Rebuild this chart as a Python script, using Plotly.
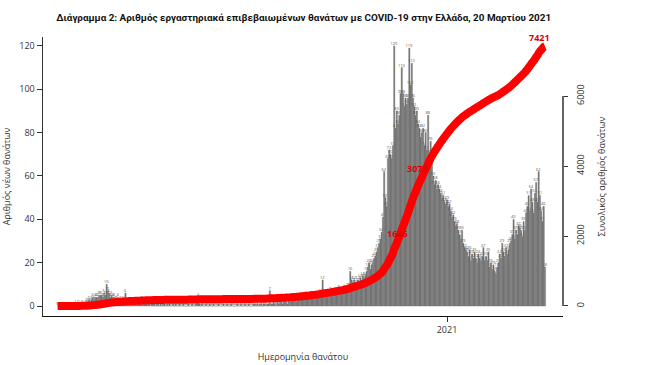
import numpy as np
import pandas as pd
import plotly.graph_objects as go

# ---------------- data (daily deaths by date of death) ----------------
deaths_2020_02 = [0, 0, 0, 0]  # from 26 Feb
deaths_2020_03 = [0, 0, 0, 0, 0, 0, 0, 0, 0, 0, 1, 0, 1, 1, 0, 1, 1, 0, 1, 2,
                  2, 3, 2, 3, 4, 3, 4, 4, 4, 5, 5]
deaths_2020_04 = [5, 4, 6, 5, 10, 7, 6, 4, 5, 4, 4, 3, 3, 4, 2, 3, 2, 3, 2, 6,
                  2, 2, 1, 2, 2, 1, 1, 2, 1, 1]
deaths_2020_05 = [2, 1, 3, 2, 1, 2, 1, 1, 2, 0, 1, 2, 1, 0, 1, 1, 0, 1, 0, 2,
                  1, 0, 1, 0, 1, 0, 0, 1, 0, 1, 0]
deaths_2020_06 = [0, 1, 0, 0, 1, 0, 0, 0, 1, 0, 0, 1, 0, 0, 1, 2, 4, 1, 0, 1,
                  0, 0, 1, 0, 0, 1, 0, 0, 1, 0]
deaths_2020_07 = [0, 0, 1, 0, 0, 0, 1, 0, 0, 1, 0, 0, 1, 0, 0, 0, 0, 1, 0, 0,
                  1, 0, 0, 1, 0, 0, 1, 0, 0, 0, 1]
deaths_2020_08 = [1, 0, 1, 0, 1, 1, 0, 1, 1, 0, 1, 1, 7, 1, 1, 2, 1, 0, 2, 1,
                  2, 3, 1, 2, 3, 2, 1, 3, 2, 4, 3]
deaths_2020_09 = [3, 3, 2, 4, 3, 4, 4, 3, 4, 3, 5, 4, 3, 4, 5, 5, 4, 4, 5, 5,
                  4, 6, 5, 12, 5, 5, 6, 5, 5, 7]
deaths_2020_10 = [6, 6, 5, 7, 6, 7, 8, 6, 7, 7, 8, 8, 7, 9, 9, 16, 12, 11, 12, 11,
                  10, 12, 11, 13, 12, 14, 13, 14, 16, 18, 20]
deaths_2020_11 = [17, 19, 20, 22, 23, 25, 27, 29, 31, 34, 41, 62, 50, 46, 68, 72, 70, 68, 74, 120,
                  82, 90, 84, 88, 98, 110, 98, 92, 96, 93]
deaths_2020_12 = [96, 119, 102, 112, 96, 92, 88, 90, 84, 82, 78, 80, 82, 74, 80, 72, 88, 70, 76, 66,
                  60, 56, 58, 54, 56, 54, 52, 50, 51, 48, 47]
deaths_2021_01 = [49, 46, 47, 44, 41, 42, 39, 37, 38, 35, 33, 31, 35, 29, 27, 26, 25, 23, 26, 21,
                  24, 22, 25, 22, 20, 24, 22, 21, 23, 27, 21]
deaths_2021_02 = [23, 21, 25, 18, 20, 17, 19, 16, 15, 18, 20, 24, 22, 29, 25, 23, 27, 24, 26, 29,
                  30, 33, 40, 31, 35, 33, 37, 36]
deaths_2021_03 = [35, 32, 39, 35, 43, 46, 51, 44, 54, 48, 43, 52, 57, 48, 62, 51, 44, 39, 46, 18]

month_starts = ["2020-02-26", "2020-03-01", "2020-04-01", "2020-05-01", "2020-06-01",
                "2020-07-01", "2020-08-01", "2020-09-01", "2020-10-01", "2020-11-01",
                "2020-12-01", "2021-01-01", "2021-02-01", "2021-03-01"]
month_values = [deaths_2020_02, deaths_2020_03, deaths_2020_04, deaths_2020_05, deaths_2020_06,
                deaths_2020_07, deaths_2020_08, deaths_2020_09, deaths_2020_10, deaths_2020_11,
                deaths_2020_12, deaths_2021_01, deaths_2021_02, deaths_2021_03]

cum_labels = [1646, 3073, 7421]
x_tick_vals = ["2021-01-01"]
x_tick_text = ["2021"]
left_ticks = [0, 20, 40, 60, 80, 100, 120]
right_ticks = [0, 2000, 4000, 6000]

title_text = "Διάγραμμα 2: Αριθμός εργαστηριακά επιβεβαιωμένων θανάτων με COVID-19 στην Ελλάδα, 20 Μαρτίου 2021"
x_title = "Ημερομηνία θανάτου"
y_title = "Αριθμός νέων θανάτων"
y2_title = "Συνολικός αριθμός θανάτων"

# ---------------- build series ----------------
dates, deaths = [], []
for start, vals in zip(month_starts, month_values):
    dates += list(pd.date_range(start, periods=len(vals), freq="D"))
    deaths += vals
cum = np.cumsum(deaths)

# ---------------- figure ----------------
AX = "#333333"
FONT = "Open Sans, Noto Sans, DejaVu Sans, sans-serif"
BAR = "#747474"

fig = go.Figure()
fig.add_trace(go.Bar(
    x=dates, y=deaths, yaxis="y",
    marker=dict(color=BAR, line=dict(width=0.4, color=BAR)),
    text=[str(v) for v in deaths], textposition="outside",
    textfont=dict(size=4, color="#555555", family=FONT),
    constraintext="none", cliponaxis=False, hoverinfo="skip",
))
fig.add_trace(go.Scatter(
    x=dates, y=cum, yaxis="y2", mode="lines",
    line=dict(color="#ff0000", width=8, simplify=False, shape="spline", smoothing=0.6),
    hoverinfo="skip",
))

label_shift = [(2, 15), (4, 30), (-5, 9)]
annotations = []
for val, (dx, dy) in zip(cum_labels, label_shift):
    idx = int(np.argmax(cum >= val))
    annotations.append(dict(
        x=dates[idx], y=val, xref="x", yref="y2", text=f"<b>{val}</b>",
        showarrow=False, xshift=dx, yshift=dy,
        font=dict(size=9, color="#e00000", family=FONT),
    ))

fig.update_layout(
    width=672, height=365,
    margin=dict(l=43, r=109, t=37, b=49, autoexpand=False),
    paper_bgcolor="white", plot_bgcolor="white",
    showlegend=False, bargap=0, hovermode=False,
    font=dict(family=FONT, color=AX, size=9),
    title=dict(text=f"<b>{title_text}</b>", x=0.452, xanchor="center",
               y=1 - 18 / 365, yanchor="middle",
               font=dict(family="Roboto, sans-serif", size=9.9, color="#111111")),
    xaxis=dict(type="date", range=["2020-02-14 08:10", "2021-04-03 08:38"],
               tickvals=x_tick_vals, ticktext=x_tick_text, automargin=False,
               ticks="outside", ticklen=5, tickcolor=AX,
               showline=True, linecolor="#111111", linewidth=1,
               showgrid=False, zeroline=False, tickfont=dict(size=9),
               title=dict(text=x_title, font=dict(size=9), standoff=18)),
    yaxis=dict(range=[-4.6, 124.1], tickvals=left_ticks, automargin=False,
               ticks="outside", ticklen=5, tickcolor=AX,
               showline=True, linecolor=AX, linewidth=1.5,
               showgrid=False, zeroline=False, tickfont=dict(size=9),
               title=dict(text=y_title, font=dict(size=9), standoff=11)),
    yaxis2=dict(overlaying="y", side="right", range=[-286, 7686], automargin=False,
                tickvals=right_ticks, tickangle=-90, ticklabelstandoff=5,
                ticks="outside", ticklen=4, tickcolor=AX,
                showline=False, showgrid=False, zeroline=False,
                tickfont=dict(size=9),
                title=dict(text=y2_title, font=dict(size=9), standoff=12)),
    shapes=[dict(type="line", xref="paper", yref="y2", x0=1, x1=1, y0=0, y1=6000,
                 line=dict(color=AX, width=1.5))],
    annotations=annotations,
)

fig.write_html("out.html",
               config={"displayModeBar": False, "staticPlot": True},
               post_script="document.body.style.margin='0';document.body.style.overflow='hidden';")
